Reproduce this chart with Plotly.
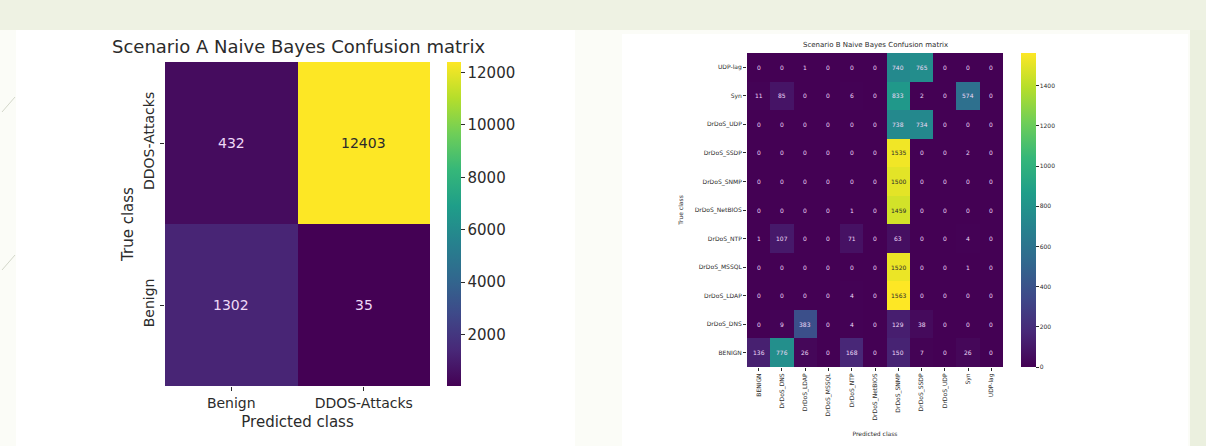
import plotly.graph_objects as go

W, H = 1206, 446

# Scenario A (binary) confusion matrix, rows listed top to bottom
a_rows = ["DDOS-Attacks", "Benign"]
a_cols = ["Benign", "DDOS-Attacks"]
a_values = [
    [432, 12403],
    [1302, 35],
]

# Scenario B (multi-class) confusion matrix, rows listed top to bottom
b_rows = ["UDP-lag", "Syn", "DrDoS_UDP", "DrDoS_SSDP", "DrDoS_SNMP",
          "DrDoS_NetBIOS", "DrDoS_NTP", "DrDoS_MSSQL", "DrDoS_LDAP",
          "DrDoS_DNS", "BENIGN"]
b_cols = ["BENIGN", "DrDoS_DNS", "DrDoS_LDAP", "DrDoS_MSSQL", "DrDoS_NTP",
          "DrDoS_NetBIOS", "DrDoS_SNMP", "DrDoS_SSDP", "DrDoS_UDP", "Syn",
          "UDP-lag"]
b_values = [
    [0, 0, 1, 0, 0, 0, 740, 765, 0, 0, 0],
    [11, 85, 0, 0, 6, 0, 833, 2, 0, 574, 0],
    [0, 0, 0, 0, 0, 0, 738, 734, 0, 0, 0],
    [0, 0, 0, 0, 0, 0, 1535, 0, 0, 2, 0],
    [0, 0, 0, 0, 0, 0, 1500, 0, 0, 0, 0],
    [0, 0, 0, 0, 1, 0, 1459, 0, 0, 0, 0],
    [1, 107, 0, 0, 71, 0, 63, 0, 0, 4, 0],
    [0, 0, 0, 0, 0, 0, 1520, 0, 0, 1, 0],
    [0, 0, 0, 0, 4, 0, 1563, 0, 0, 0, 0],
    [0, 9, 383, 0, 4, 0, 129, 38, 0, 0, 0],
    [136, 776, 26, 0, 168, 0, 150, 7, 0, 26, 0],
]
b_cbar_ticks = [0, 200, 400, 600, 800, 1000, 1200, 1400]
a_cbar_ticks = [2000, 4000, 6000, 8000, 10000, 12000]

FONT = "DejaVu Sans"
INK = "#2b2b2b"
LIGHT_TXT = "#efd9f7"


def fx(px):
    return px / W


def fy(py):
    return 1 - py / H


def zmin_max(m):
    flat = [v for r in m for v in r]
    return min(flat), max(flat)


fig = go.Figure()

a_lo, a_hi = zmin_max(a_values)
b_lo, b_hi = 0, zmin_max(b_values)[1]

fig.add_trace(go.Heatmap(
    z=a_values, x=a_cols, y=a_rows, xaxis="x", yaxis="y",
    colorscale="Viridis", zmin=a_lo, zmax=a_hi, hoverinfo="skip",
    colorbar=dict(
        x=fx(447), xanchor="left", xpad=0, thickness=14,
        y=fy(224), yanchor="middle", len=324 / H, lenmode="fraction", ypad=0,
        outlinewidth=0, tickvals=a_cbar_ticks, tickformat="d",
        ticks="outside", ticklen=4,
        tickcolor=INK, tickfont=dict(family=FONT, size=15, color=INK),
    ),
))

fig.add_trace(go.Heatmap(
    z=b_values, x=b_cols, y=b_rows, xaxis="x2", yaxis="y2",
    colorscale="Viridis", zmin=b_lo, zmax=b_hi, hoverinfo="skip",
    colorbar=dict(
        x=fx(1021), xanchor="left", xpad=0, thickness=15,
        y=fy(210), yanchor="middle", len=314 / H, lenmode="fraction", ypad=0,
        outlinewidth=0, tickvals=b_cbar_ticks, tickformat="d",
        ticks="outside", ticklen=3,
        tickcolor=INK, tickfont=dict(family=FONT, size=6, color=INK),
    ),
))

annotations = []


def cell_labels(values, rows, cols, hi, xa, ya, size):
    for i, r in enumerate(rows):
        for j, c in enumerate(cols):
            v = values[i][j]
            annotations.append(dict(
                x=c, y=r, xref=xa, yref=ya, text=str(v), showarrow=False,
                font=dict(family=FONT, size=size,
                          color=INK if v / hi > 0.6 else LIGHT_TXT),
            ))


cell_labels(a_values, a_rows, a_cols, a_hi, "x", "y", 14)
cell_labels(b_values, b_rows, b_cols, b_hi, "x2", "y2", 6)

annotations += [
    dict(x=fx(298), y=fy(47), xref="paper", yref="paper",
         xanchor="center", yanchor="middle",
         text="Scenario A Naive Bayes Confusion matrix", showarrow=False,
         font=dict(family=FONT, size=18, color=INK)),
    dict(x=fx(875), y=fy(45), xref="paper", yref="paper",
         xanchor="center", yanchor="middle",
         text="Scenario B Naive Bayes Confusion matrix", showarrow=False,
         font=dict(family=FONT, size=7, color=INK)),
]

# slide backdrop: greenish border band and white content panels
shapes = [
    dict(type="rect", xref="paper", yref="paper", layer="below",
         x0=0, x1=1, y0=fy(30), y1=1, line_width=0, fillcolor="#eef2e3"),
    dict(type="rect", xref="paper", yref="paper", layer="below",
         x0=fx(1190), x1=1, y0=0, y1=fy(30), line_width=0, fillcolor="#ebf0df"),
    dict(type="rect", xref="paper", yref="paper", layer="below",
         x0=fx(16), x1=fx(575), y0=0, y1=fy(30), line_width=0, fillcolor="#ffffff"),
    dict(type="rect", xref="paper", yref="paper", layer="below",
         x0=fx(622), x1=fx(1188), y0=0, y1=fy(34), line_width=0, fillcolor="#ffffff"),
    dict(type="line", xref="paper", yref="paper", layer="below",
         x0=fx(2), y0=fy(112), x1=fx(15), y1=fy(97), line=dict(color="#d3d7ca", width=1)),
    dict(type="line", xref="paper", yref="paper", layer="below",
         x0=fx(2), y0=fy(270), x1=fx(15), y1=fy(255), line=dict(color="#d3d7ca", width=1)),
]

fig.update_layout(
    width=W, height=H, margin=dict(l=0, r=0, t=0, b=0),
    paper_bgcolor="#fbfcf7", plot_bgcolor="#fbfcf7",
    annotations=annotations, shapes=shapes, showlegend=False,
    xaxis=dict(domain=[fx(165), fx(430)], anchor="y", showgrid=False,
               zeroline=False, ticks="outside", ticklen=4, tickcolor=INK,
               tickfont=dict(family=FONT, size=14, color=INK),
               title=dict(text="Predicted class", standoff=6,
                          font=dict(family=FONT, size=15, color=INK))),
    yaxis=dict(domain=[fy(386), fy(62)], anchor="x", showgrid=False,
               zeroline=False, ticks="outside", ticklen=4, tickcolor=INK,
               tickangle=-90, autorange="reversed",
               tickfont=dict(family=FONT, size=14, color=INK),
               title=dict(text="True class", standoff=4,
                          font=dict(family=FONT, size=15, color=INK))),
    xaxis2=dict(domain=[fx(747), fx(1003)], anchor="y2", showgrid=False,
                zeroline=False, ticks="outside", ticklen=3, tickcolor=INK,
                tickangle=-90,
                tickfont=dict(family=FONT, size=6, color=INK),
                title=dict(text="Predicted class", standoff=12,
                           font=dict(family=FONT, size=6, color=INK))),
    yaxis2=dict(domain=[fy(367), fy(53)], anchor="x2", showgrid=False,
                zeroline=False, ticks="outside", ticklen=3, tickcolor=INK,
                autorange="reversed",
                tickfont=dict(family=FONT, size=6, color=INK),
                title=dict(text="True class", standoff=10,
                           font=dict(family=FONT, size=6, color=INK))),
)

fig.write_html("out.html")
